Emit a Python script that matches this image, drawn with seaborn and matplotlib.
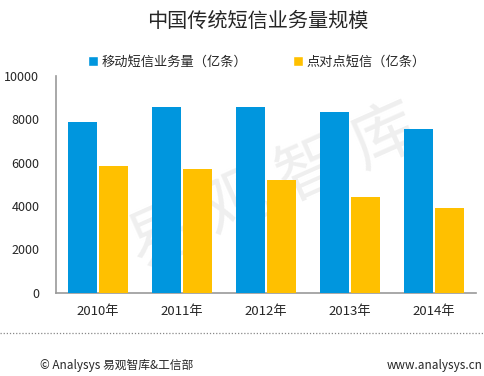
import pandas as pd
import matplotlib
matplotlib.use('Agg')
import matplotlib.pyplot as plt
import seaborn as sns
from matplotlib.patches import Patch
from matplotlib.lines import Line2D

years = ['2010年', '2011年', '2012年', '2013年', '2014年']
mobile_sms = [7870, 8570, 8570, 8340, 7550]
p2p_sms = [5830, 5690, 5200, 4410, 3920]
series_names = ['移动短信业务量（亿条）', '点对点短信（亿条）']
colors = ['#0096DE', '#FFC000']

df = pd.DataFrame({
    'year': years * 2,
    'value': mobile_sms + p2p_sms,
    'series': [series_names[0]] * len(years) + [series_names[1]] * len(years),
})

sns.set_style('white')
plt.rcParams['font.family'] = ['Noto Sans CJK SC', 'DejaVu Sans']

fig = plt.figure(figsize=(4.85, 3.76), dpi=100)
ax = fig.add_axes([0.1155, 0.222, 0.866, 0.576])
ax.patch.set_alpha(0)

sns.barplot(data=df, x='year', y='value', hue='series', palette=colors, saturation=1,
            width=0.72, gap=0.04, edgecolor='none', ax=ax, legend=False, zorder=3)

# watermark behind the bars
ax.text(0.565, 0.50, '易 观 智 库', transform=fig.transFigure, fontsize=48,
        color='#EFEFEF', rotation=24, ha='center', va='center', zorder=0,
        fontweight='light')

ax.set_ylim(0, 10000)
ax.set_yticks(range(0, 10001, 2000))
ax.set_xlim(-0.5, 4.5)
ax.set_xlabel('')
ax.set_ylabel('')
for s in ['top', 'right']:
    ax.spines[s].set_visible(False)
for s in ['left', 'bottom']:
    ax.spines[s].set_color('#999999')
    ax.spines[s].set_linewidth(1.2)
ax.tick_params(axis='y', direction='in', length=4, color='#999999', width=1.2,
               labelsize=9, pad=12)
ax.tick_params(axis='x', length=0, labelsize=9.5, pad=9)

fig.text(0.532, 0.942, '中国传统短信业务量规模', fontsize=14.5, ha='center', va='center')

handles = [Patch(facecolor=c, label=n) for c, n in zip(colors, series_names)]
fig.legend(handles=handles, loc='center', bbox_to_anchor=(0.53, 0.835), ncol=2,
           frameon=False, fontsize=9.5, handlelength=0.7, handleheight=0.7,
           handletextpad=0.3, columnspacing=3.5)

fig.add_artist(Line2D([0, 1], [0.114, 0.114], transform=fig.transFigure,
                      color='#888888', linestyle=(0, (1, 1.5)), linewidth=0.9))
fig.text(0.083, 0.027, '© Analysys 易观智库&工信部', fontsize=8.5, ha='left', va='center')
fig.text(0.995, 0.027, 'www.analysys.cn', fontsize=8.5, ha='right', va='center')

fig.savefig('out.png', dpi=100)
